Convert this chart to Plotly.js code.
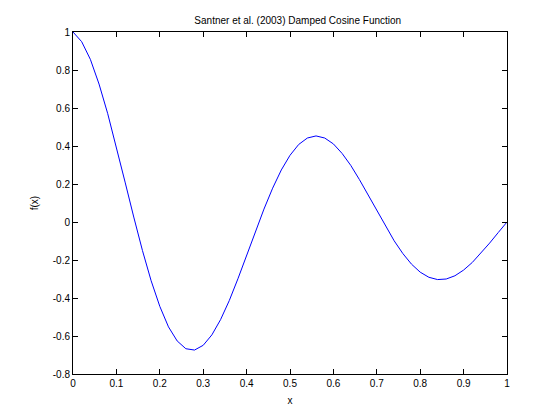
<!DOCTYPE html>
<html>
<head>
<meta charset="utf-8">
<script src="https://cdn.plot.ly/plotly-3.0.1.min.js"></script>
<style>html,body{margin:0;padding:0;background:#fff;}</style>
</head>
<body>
<div id="chart" style="width:560px;height:420px;"></div>
<script>
var xValues = [0,0.02,0.04,0.06,0.08,0.10,0.12,0.14,0.16,0.18,0.20,0.22,0.24,0.26,0.28,0.30,0.32,0.34,0.36,0.38,0.40,0.42,0.44,0.46,0.48,0.50,0.52,0.54,0.56,0.58,0.60,0.62,0.64,0.66,0.68,0.70,0.72,0.74,0.76,0.78,0.80,0.82,0.84,0.86,0.88,0.90,0.92,0.94,0.96,0.98,1.00];
var fValues = [1.0,0.949,0.856,0.726,0.570,0.395,0.210,0.026,-0.150,-0.309,-0.444,-0.552,-0.626,-0.667,-0.674,-0.649,-0.594,-0.514,-0.414,-0.299,-0.177,-0.052,0.068,0.178,0.274,0.351,0.408,0.442,0.453,0.442,0.411,0.361,0.298,0.223,0.142,0.059,-0.023,-0.099,-0.166,-0.222,-0.264,-0.291,-0.303,-0.300,-0.283,-0.253,-0.213,-0.164,-0.111,-0.055,0.0];
var xTicks = [0,0.1,0.2,0.3,0.4,0.5,0.6,0.7,0.8,0.9,1];
var xTickText = ['0','0.1','0.2','0.3','0.4','0.5','0.6','0.7','0.8','0.9','1'];
var yTicks = [-0.8,-0.6,-0.4,-0.2,0,0.2,0.4,0.6,0.8,1];
var yTickText = ['-0.8','-0.6','-0.4','-0.2','0','0.2','0.4','0.6','0.8','1'];

var font = {family:'Liberation Sans, Arial, sans-serif', size:10, color:'#000'};
var axisCommon = {
  showline:true, mirror:'ticks', linecolor:'#000', linewidth:1,
  ticks:'inside', ticklen:5, tickcolor:'#000', tickwidth:1,
  showgrid:false, zeroline:false, tickfont:font, fixedrange:true
};
var trace = {x:xValues, y:fValues, type:'scatter', mode:'lines',
  line:{color:'#0000ff', width:1}, hoverinfo:'none'};
var layout = {
  width:560, height:420,
  margin:{l:73, r:53, t:32, b:46},
  paper_bgcolor:'#fff', plot_bgcolor:'#fff',
  font:font, showlegend:false,
  title:{text:'Santner et al. (2003) Damped Cosine Function', font:font,
    x:290/560, xref:'paper', xanchor:'center', y:1-20/420, yref:'container', yanchor:'middle'},
  xaxis:Object.assign({}, axisCommon, {range:[0,1], tickvals:xTicks, ticktext:xTickText,
    title:{text:'x', font:font, standoff:8}}),
  yaxis:Object.assign({}, axisCommon, {range:[-0.8,1], tickvals:yTicks, ticktext:yTickText,
    title:{text:'f(x)', font:font, standoff:12}})
};
Plotly.newPlot('chart', [trace], layout, {staticPlot:true, displayModeBar:false});
</script>
</body>
</html>
